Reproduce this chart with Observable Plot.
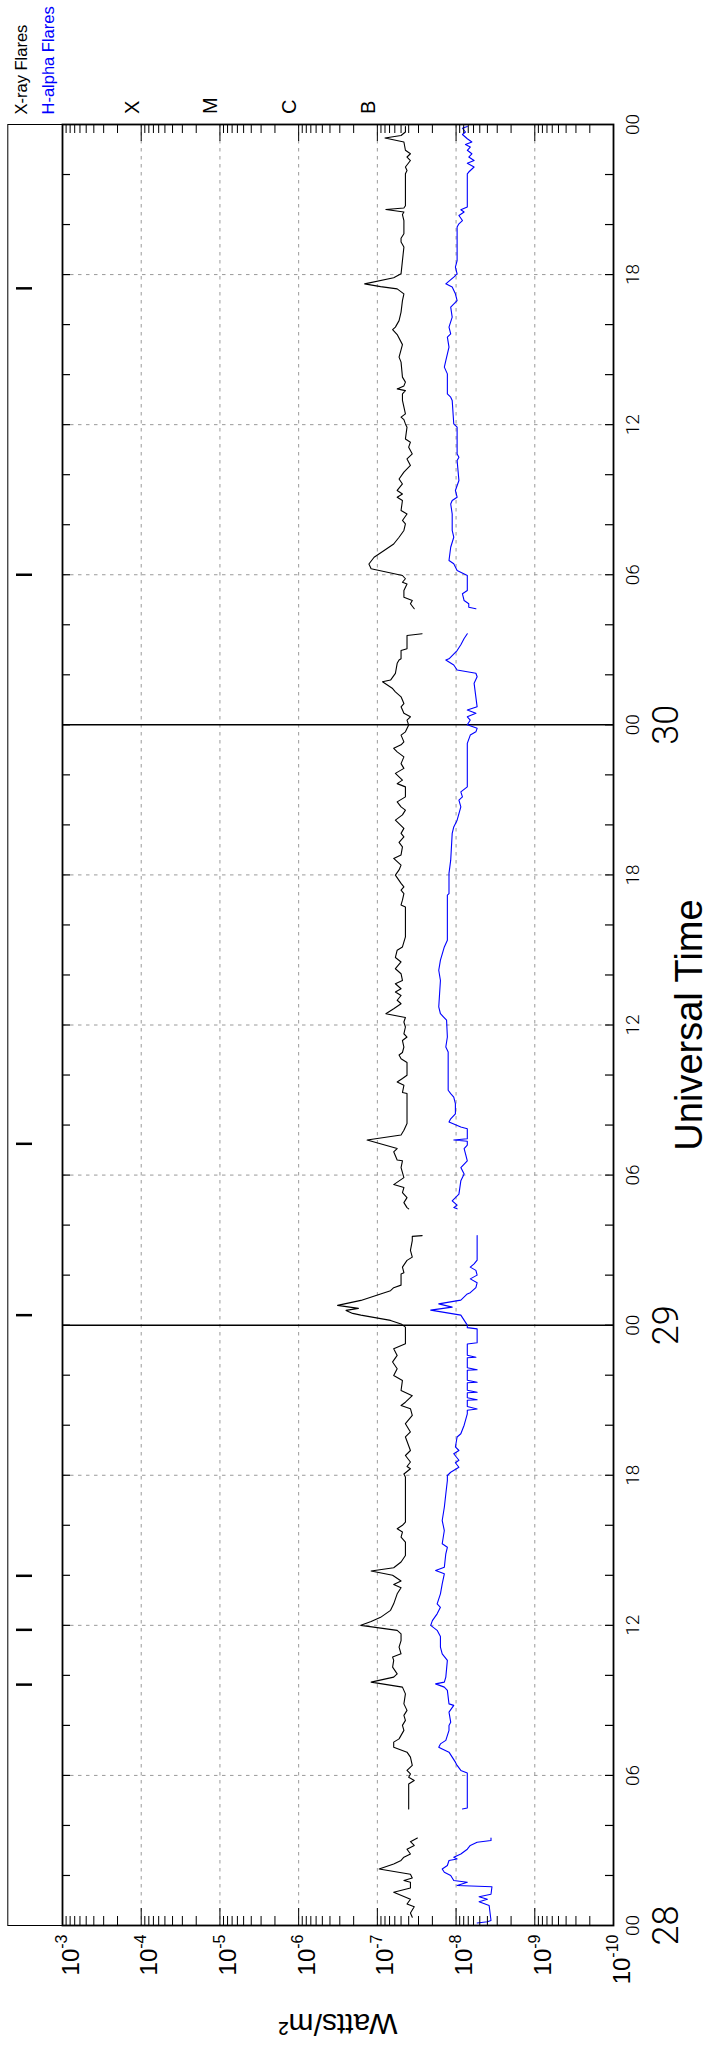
<!DOCTYPE html>
<html>
<head>
<meta charset="utf-8">
<script src="https://cdn.jsdelivr.net/npm/d3@7"></script>
<script src="https://cdn.jsdelivr.net/npm/@observablehq/plot@0.6"></script>
<style>
  html, body { margin: 0; padding: 0; background: #fff; }
  #chart svg { display: block; }
</style>
</head>
<body>
<div id="chart"></div>
<script>
// ---------- data (hours since day 28 00:00 UT, flux in W/m^2) ----------
const xray = [
[0.33,3.6e-8],[0.5,3.8e-8],[0.75,3.4e-8],[0.86,4.2e-8],[1.05,3.8e-8],[1.33,6.2e-8],[1.5,3.8e-8],[1.73,3.8e-8],[1.8,4.6e-8],[1.9,3.6e-8],[2.05,3.8e-8],[2.26,9.5e-8],[2.46,6.2e-8],[2.6,5.0e-8],[2.73,4.6e-8],[2.86,3.8e-8],[3.05,4.2e-8],[3.2,3.4e-8],[3.35,3.8e-8],[3.5,3.1e-8],
[4.0,NaN],
[4.66,4.0e-8],[5.66,4.0e-8],[5.8,3.4e-8],[5.93,4.0e-8],[6.06,3.8e-8],[6.2,4.2e-8],[6.4,3.6e-8],[6.73,3.8e-8],[6.93,4.2e-8],[7.13,6.2e-8],[7.33,6.2e-8],[7.46,5.3e-8],[7.6,5.0e-8],[7.8,4.6e-8],[8.0,4.8e-8],[8.2,4.4e-8],[8.4,4.6e-8],[8.6,4.2e-8],[8.86,4.6e-8],[9.26,4.4e-8],[9.53,4.8e-8],[9.73,1.2e-7],[9.93,6.2e-8],[10.06,5.6e-8],[10.33,6.4e-8],[10.6,6.2e-8],[10.73,6.4e-8],[10.86,5.0e-8],[11.13,5.3e-8],[11.39,5.0e-8],[11.66,5.0e-8],[11.8,5.6e-8],[12.0,1.62e-7],[12.15,1.2e-7],[12.32,9.1e-8],[12.6,6.8e-8],[12.86,6.2e-8],[13.26,5.6e-8],[13.5,5.0e-8],[13.63,6.2e-8],[13.77,5.0e-8],[14.0,6.4e-8],[14.17,1.2e-7],[14.3,6.2e-8],[14.53,5.0e-8],[14.79,4.4e-8],[15.33,4.4e-8],[15.53,5.0e-8],[15.73,4.8e-8],[15.86,5.6e-8],[16.0,4.8e-8],[16.13,4.4e-8],[17.93,4.4e-8],[18.05,4.6e-8],[18.26,3.8e-8],[18.35,4.2e-8],[18.53,3.8e-8],[18.79,4.4e-8],[18.99,3.8e-8],[19.53,4.4e-8],[19.73,3.8e-8],[20.06,4.4e-8],[20.39,3.6e-8],[20.66,3.8e-8],[20.79,5.0e-8],[20.92,4.4e-8],[21.18,3.6e-8],[21.39,5.0e-8],[21.79,4.8e-8],[21.99,6.2e-8],[22.26,5.6e-8],[22.53,6.4e-8],[22.79,5.6e-8],[23.06,6.2e-8],[23.26,4.4e-8],[23.92,4.4e-8],[24.05,5.0e-8],[24.19,6.8e-8],[24.4,1.62e-7],[24.47,2.06e-7],[24.59,2.5e-7],[24.67,1.74e-7],[24.79,3.2e-7],[24.9,2.2e-7],[24.99,1.62e-7],[25.25,9.1e-8],[25.38,6.8e-8],[25.5,6.2e-8],[25.6,5.0e-8],[26.05,5.0e-8],[26.1,4.6e-8],[26.32,4.8e-8],[26.59,4.2e-8],[26.72,3.6e-8],[26.99,3.8e-8],[27.38,3.6e-8],[27.55,3.6e-8],[27.58,2.7e-8],
[28.1,NaN],
[28.65,4.0e-8],[28.7,4.2e-8],[28.9,4.6e-8],[29.1,4.2e-8],[29.3,4.8e-8],[29.5,4.6e-8],[29.62,6.2e-8],[29.9,4.6e-8],[30.3,5.0e-8],[30.57,4.8e-8],[30.6,5.6e-8],[30.93,6.2e-8],[31.06,5.6e-8],[31.4,1.35e-7],[31.6,5.0e-8],[31.79,4.6e-8],[32.06,4.2e-8],[33.26,4.2e-8],[33.3,4.8e-8],[33.59,4.6e-8],[33.72,5.6e-8],[33.86,4.8e-8],[33.99,4.2e-8],[34.5,4.2e-8],[34.65,5.0e-8],[34.8,5.3e-8],[34.9,4.8e-8],[35.12,4.6e-8],[35.38,4.8e-8],[35.52,4.2e-8],[35.65,4.6e-8],[35.92,4.4e-8],[36.12,4.6e-8],[36.3,4.4e-8],[36.45,7.8e-8],[36.65,6.2e-8],[36.85,5.0e-8],[36.99,5.6e-8],[37.18,5.0e-8],[37.32,5.9e-8],[37.45,5.0e-8],[37.65,5.9e-8],[37.78,4.8e-8],[38.05,5.0e-8],[38.25,5.9e-8],[38.52,5.0e-8],[38.7,5.9e-8],[38.99,5.6e-8],[39.12,4.8e-8],[39.52,4.4e-8],[40.72,4.4e-8],[40.8,5.0e-8],[40.99,4.8e-8],[41.25,4.6e-8],[41.39,5.0e-8],[41.52,4.6e-8],[41.66,5.0e-8],[41.99,5.9e-8],[42.2,5.3e-8],[42.39,5.0e-8],[42.66,6.2e-8],[42.8,5.0e-8],[43.12,4.8e-8],[43.3,5.3e-8],[43.52,4.6e-8],[43.66,5.0e-8],[43.86,4.6e-8],[44.19,5.9e-8],[44.4,4.8e-8],[44.59,4.4e-8],[44.72,5.0e-8],[44.92,5.6e-8],[45.12,4.4e-8],[45.52,4.4e-8],[45.65,5.6e-8],[45.79,4.8e-8],[46.06,5.9e-8],[46.26,4.6e-8],[46.45,5.0e-8],[46.72,4.6e-8],[46.92,5.6e-8],[47.06,6.2e-8],[47.2,5.0e-8],[47.32,4.6e-8],[47.59,5.0e-8],[47.72,4.4e-8],[47.99,4.0e-8],[48.19,4.2e-8],[48.32,3.8e-8],[48.46,4.6e-8],[48.72,5.0e-8],[48.85,4.6e-8],[49.12,5.0e-8],[49.32,5.9e-8],[49.45,6.4e-8],[49.72,8.6e-8],[49.79,6.8e-8],[50.06,5.9e-8],[50.46,5.6e-8],[50.59,5.3e-8],[50.64,5.0e-8],[50.97,5.0e-8],[51.04,4.2e-8],[51.57,4.2e-8],[51.64,2.7e-8],
[52.1,NaN],
[52.64,3.4e-8],[52.84,3.8e-8],[52.97,3.6e-8],[53.1,4.6e-8],[53.37,4.6e-8],[53.63,4.2e-8],[53.7,4.8e-8],[53.84,4.4e-8],[53.97,4.8e-8],[54.24,1.2e-7],[54.43,1.28e-7],[54.7,1.1e-7],[54.97,8.2e-8],[55.23,6.2e-8],[55.5,5.3e-8],[55.77,4.6e-8],[56.03,4.4e-8],[56.17,4.8e-8],[56.43,4.2e-8],[56.57,5.0e-8],[56.97,4.8e-8],[57.1,5.6e-8],[57.23,4.8e-8],[57.37,5.6e-8],[57.63,4.8e-8],[57.83,5.3e-8],[58.1,4.6e-8],[58.37,3.8e-8],[58.63,4.2e-8],[58.83,3.6e-8],[59.1,4.0e-8],[59.3,3.8e-8],[59.43,4.4e-8],[59.9,4.2e-8],[60.03,4.4e-8],[60.2,4.6e-8],[60.3,5.0e-8],[60.43,4.4e-8],[60.97,4.8e-8],[61.23,4.8e-8],[61.36,4.4e-8],[61.43,5.6e-8],[61.55,4.6e-8],[61.7,4.4e-8],[61.9,4.8e-8],[62.5,5.0e-8],[62.7,5.3e-8],[63.2,4.8e-8],[63.6,5.6e-8],[63.8,6.4e-8],[63.9,5.9e-8],[64.16,5.3e-8],[64.5,5.0e-8],[64.96,4.8e-8],[65.23,4.6e-8],[65.43,5.6e-8],[65.52,9.1e-8],[65.63,1.45e-7],[65.87,6.2e-8],[66.03,5.0e-8],[66.56,4.8e-8],[67.1,4.6e-8],[67.3,5.0e-8],[67.45,5.0e-8],[67.63,4.6e-8],[68.16,4.6e-8],[68.4,4.8e-8],[68.5,4.6e-8],[68.6,7.8e-8],[68.66,4.6e-8],[68.75,4.4e-8],[69.23,4.4e-8],[70.03,4.4e-8],[70.16,4.2e-8],[70.3,4.4e-8],[70.56,3.8e-8],[70.7,4.2e-8],[70.83,3.8e-8],[70.97,4.4e-8],[71.3,4.6e-8],[71.46,8.0e-8],[71.56,5.0e-8],[71.7,4.4e-8],[71.92,4.4e-8]
];

const lowChannel = [
[0.1,5.4e-9],[0.15,4.0e-9],[0.2,3.6e-9],[0.8,3.8e-9],[0.95,5.1e-9],[1.05,4.0e-9],[1.15,5.1e-9],[1.25,3.6e-9],[1.55,3.5e-9],[1.6,9.7e-9],[1.73,7.2e-9],[1.8,1.07e-8],[2.0,1.17e-8],[2.13,1.41e-8],[2.26,1.5e-8],[2.4,1.29e-8],[2.6,1.23e-8],[2.66,9.7e-9],[2.73,1.07e-8],[2.86,8.7e-9],[3.05,7.2e-9],[3.2,6.6e-9],[3.33,5.4e-9],[3.4,3.6e-9],[3.5,3.6e-9],
[4.0,NaN],
[4.66,8.3e-9],[4.7,7.2e-9],[6.1,7.2e-9],[6.2,8.7e-9],[6.4,9.7e-9],[6.53,1.02e-8],[6.73,1.12e-8],[6.93,1.23e-8],[7.06,1.5e-8],[7.13,1.66e-8],[7.26,1.58e-8],[7.4,1.35e-8],[7.8,1.23e-8],[8.0,1.23e-8],[8.13,1.17e-8],[8.53,1.23e-8],[8.8,1.07e-8],[8.86,1.23e-8],[9.4,1.29e-8],[9.53,1.41e-8],[9.66,1.82e-8],[9.73,1.41e-8],[9.93,1.35e-8],[10.6,1.29e-8],[10.86,1.5e-8],[11.13,1.58e-8],[11.55,1.58e-8],[11.8,1.74e-8],[12.0,2.1e-8],[12.19,2.0e-8],[12.46,1.74e-8],[12.72,1.58e-8],[12.86,1.74e-8],[13.26,1.58e-8],[13.66,1.5e-8],[14.06,1.41e-8],[14.19,1.82e-8],[14.32,1.41e-8],[14.86,1.35e-8],[15.12,1.29e-8],[15.26,1.5e-8],[15.79,1.41e-8],[16.19,1.5e-8],[16.72,1.41e-8],[17.25,1.35e-8],[17.79,1.29e-8],[17.99,1.29e-8],[18.12,1.17e-8],[18.32,9.2e-9],[18.5,1.02e-8],[18.6,9.2e-9],[18.86,1.07e-8],[18.99,9.2e-9],[19.13,1.02e-8],[19.53,9.7e-9],[19.66,8.7e-9],[20.0,7.9e-9],[20.45,7.2e-9],[20.6,7.2e-9],[20.65,5.4e-9],[20.75,7.2e-9],[21.0,7.2e-9],[21.02,5.4e-9],[21.1,7.2e-9],[21.3,7.2e-9],[21.32,5.4e-9],[21.4,7.2e-9],[21.7,7.2e-9],[21.72,5.4e-9],[21.8,7.2e-9],[22.2,7.2e-9],[22.22,5.4e-9],[22.3,7.2e-9],[22.7,7.2e-9],[22.72,5.6e-9],[22.8,7.2e-9],[23.25,7.2e-9],[23.3,5.4e-9],[23.85,5.4e-9],[23.9,7.2e-9],[24.0,7.2e-9],[24.4,8.7e-9],[24.6,2.1e-8],[24.72,1.12e-8],[24.85,1.66e-8],[25.0,8.7e-9],[25.25,7.2e-9],[25.3,6.6e-9],[25.5,5.6e-9],[25.7,5.4e-9],[25.85,6.6e-9],[26.0,5.4e-9],[26.19,5.6e-9],[26.32,6.6e-9],[26.45,5.9e-9],[26.6,5.4e-9],[27.58,5.4e-9],
[28.1,NaN],
[28.65,9.7e-9],[28.7,1.07e-8],[28.8,9.7e-9],[28.97,1.12e-8],[29.24,9.2e-9],[29.77,8.7e-9],[30.04,7.9e-9],[30.3,8.7e-9],[30.57,7.2e-9],[30.86,7.6e-9],[31.06,7.9e-9],[31.2,7.2e-9],[31.35,7.2e-9],[31.4,1.07e-8],[31.45,7.2e-9],[31.85,7.2e-9],[31.92,8.7e-9],[32.12,1.23e-8],[32.25,1.17e-8],[32.45,1.02e-8],[32.86,1.02e-8],[33.12,1.07e-8],[33.26,1.17e-8],[33.39,1.26e-8],[34.92,1.26e-8],[35.12,1.35e-8],[35.52,1.29e-8],[36.19,1.32e-8],[36.45,1.58e-8],[36.72,1.66e-8],[37.25,1.62e-8],[37.78,1.58e-8],[38.19,1.66e-8],[38.59,1.58e-8],[39.12,1.41e-8],[39.39,1.29e-8],[41.19,1.29e-8],[41.25,1.23e-8],[42.06,1.23e-8],[42.59,1.17e-8],[43.66,1.12e-8],[43.92,1.07e-8],[44.19,9.7e-9],[44.72,8.7e-9],[44.99,9.2e-9],[45.12,8.3e-9],[45.32,8.7e-9],[45.52,7.2e-9],[47.26,7.2e-9],[47.59,6.6e-9],[47.72,5.6e-9],[47.86,5.4e-9],[48.0,7.2e-9],[48.19,6.6e-9],[48.32,7.2e-9],[48.46,5.6e-9],[48.59,7.2e-9],[48.72,5.4e-9],[49.66,5.9e-9],[49.92,5.4e-9],[50.06,5.6e-9],[50.19,9.7e-9],[50.39,1.07e-8],[50.59,1.35e-8],[50.64,1.23e-8],[50.97,9.7e-9],[51.2,8.7e-9],[51.45,7.9e-9],[51.64,7.2e-9],
[52.1,NaN],
[52.64,5.6e-9],[52.7,6.9e-9],[52.84,6.9e-9],[52.97,7.9e-9],[53.24,8.3e-9],[53.37,7.2e-9],[53.97,7.2e-9],[54.17,9.7e-9],[54.44,1.07e-8],[54.57,1.23e-8],[55.1,1.17e-8],[55.5,1.07e-8],[55.77,1.12e-8],[56.43,1.12e-8],[56.83,1.17e-8],[56.97,1.12e-8],[57.1,9.7e-9],[57.37,1.02e-8],[57.77,9.2e-9],[58.57,9.7e-9],[58.7,9.2e-9],[58.83,9.7e-9],[59.9,9.7e-9],[60.03,1.07e-8],[60.97,1.12e-8],[61.1,1.17e-8],[61.23,1.29e-8],[62.03,1.29e-8],[62.3,1.41e-8],[62.56,1.35e-8],[63.1,1.23e-8],[63.5,1.29e-8],[63.63,1.17e-8],[63.9,1.23e-8],[64.3,1.12e-8],[64.7,1.17e-8],[64.96,9.7e-9],[65.23,1.02e-8],[65.5,1.12e-8],[65.63,1.35e-8],[65.9,1.07e-8],[66.03,9.7e-9],[66.3,1.02e-8],[66.56,9.7e-9],[67.9,9.7e-9],[68.03,9.2e-9],[68.16,8.3e-9],[68.36,9.2e-9],[68.5,7.9e-9],[68.59,8.7e-9],[68.7,7.2e-9],[70.03,7.2e-9],[70.1,6.9e-9],[70.3,5.9e-9],[70.45,7.2e-9],[70.56,5.9e-9],[70.7,6.9e-9],[70.83,6.3e-9],[70.97,7.2e-9],[71.1,6.6e-9],[71.2,7.6e-9],[71.3,6.3e-9],[71.43,7.2e-9],[71.6,8.3e-9],[71.7,7.6e-9],[71.85,8.3e-9],[71.92,7.2e-9]
];

// flare event markers (hours since 28 00 UT)
const xrayFlareHours = [9.63, 11.82, 13.98, 24.4, 31.25, 54.0, 65.45];

// axis definitions
const fluxDecades = [1e-3, 1e-4, 1e-5, 1e-6, 1e-7, 1e-8, 1e-9, 1e-10];
const fluxLabels = ["10^-3", "10^-4", "10^-5", "10^-6", "10^-7", "10^-8", "10^-9", "10^-10"];
const gridDecades = [1e-4, 1e-5, 1e-6, 1e-7, 1e-8, 1e-9];
const minorMultipliers = [2, 3, 4, 5, 6, 7, 8, 9];
const classLetters = ["X", "M", "C", "B"];
const classDecades = [1e-4, 1e-5, 1e-6, 1e-7];
const hourTickStep = 2;
const labelHours = [0, 6, 12, 18, 24, 30, 36, 42, 48, 54, 60, 66, 72];
const hourLabels = ["00", "06", "12", "18", "00", "06", "12", "18", "00", "06", "12", "18", "00"];
const dayHours = [0, 24, 48];
const dayLabels = ["28", "29", "30"];
const dayBoundaries = [24, 48];
const gridHours = [6, 12, 18, 30, 36, 42, 54, 60, 66];

// derived tick lists
const minorTicks = [-10, -9, -8, -7, -6, -5, -4].flatMap(k => minorMultipliers.map(m => m * Math.pow(10, k)));
const hourTicks = d3.range(hourTickStep, 72, hourTickStep);

const W = 710, H = 2049;
const mL = 62, mR = 97, mT = 124, mB = 124;
const frameW = W - mL - mR;   // 551
const frameH = H - mT - mB;   // 1801

const sansFont = "'Liberation Sans', Arial, Helvetica, sans-serif";
const thinFont = "Roboto, 'DejaVu Sans', 'Liberation Sans', sans-serif";

const chart = Plot.plot({
  width: W,
  height: H,
  marginLeft: mL, marginRight: mR, marginTop: mT, marginBottom: mB,
  x: {type: "log", domain: [1e-3, 1e-10], axis: null},
  y: {domain: [0, 72], axis: null},
  style: {fontFamily: sansFont, background: "white", overflow: "visible"},
  marks: [
    // grid
    Plot.ruleX(gridDecades, {x: d => d, stroke: "#9a9a9a", strokeWidth: 1, strokeDasharray: "3.5,4.5"}),
    Plot.ruleY(gridHours, {y: d => d, stroke: "#9a9a9a", strokeWidth: 1, strokeDasharray: "3.5,4.5"}),
    Plot.ruleY(dayBoundaries, {y: d => d, stroke: "black", strokeWidth: 1.5}),

    // data
    Plot.line(lowChannel, {x: d => d[1], y: d => d[0], stroke: "#0000ff", strokeWidth: 1.1}),
    Plot.line(xray, {x: d => d[1], y: d => d[0], stroke: "black", strokeWidth: 1.1}),

    // flux ticks (top & bottom, inward)
    Plot.tickX(fluxDecades, {x: d => d, stroke: "black", strokeWidth: 1, insetBottom: frameH - 17}),
    Plot.tickX(fluxDecades, {x: d => d, stroke: "black", strokeWidth: 1, insetTop: frameH - 17}),
    Plot.tickX(minorTicks, {x: d => d, stroke: "black", strokeWidth: 1, insetBottom: frameH - 9}),
    Plot.tickX(minorTicks, {x: d => d, stroke: "black", strokeWidth: 1, insetTop: frameH - 9}),

    // time ticks (left & right, inward)
    Plot.tickY(hourTicks, {y: d => d, stroke: "black", strokeWidth: 1.2, insetRight: frameW - 8}),
    Plot.tickY(hourTicks, {y: d => d, stroke: "black", strokeWidth: 1.2, insetLeft: frameW - 8}),

    // flare markers in the left strip (16 px long, shifted into the strip)
    Plot.tickY(xrayFlareHours, {y: d => d, stroke: "black", strokeWidth: 2.5, insetRight: frameW - 16, dx: -46}),

    // frames
    Plot.frame({stroke: "black", strokeWidth: 1, insetLeft: -54.7}),
    Plot.frame({stroke: "black", strokeWidth: 1.8}),

    // flux axis labels
    Plot.text(fluxDecades, {x: d => d, text: (d, i) => fluxLabels[i], frameAnchor: "bottom", dy: 9, dx: 16,
      rotate: -90, textAnchor: "end", lineAnchor: "bottom", fontSize: 24, fill: "black"}),
    // GOES class letters
    Plot.text(classDecades, {x: d => d, text: (d, i) => classLetters[i], frameAnchor: "top", dy: -10.5, dx: -2.7,
      rotate: -90, textAnchor: "start", lineAnchor: "bottom", fontSize: 20, fill: "black"}),
    // hour labels
    Plot.text(labelHours, {y: d => d, text: (d, i) => hourLabels[i], frameAnchor: "right", dx: 25,
      rotate: -90, textAnchor: "middle", lineAnchor: "bottom", fontSize: 19, fontFamily: thinFont, fontWeight: 300, fill: "black"}),
    // day labels
    Plot.text(dayHours, {y: d => d, text: (d, i) => dayLabels[i], frameAnchor: "right", dx: 64,
      rotate: -90, textAnchor: "middle", lineAnchor: "bottom", fontSize: 36, fontFamily: thinFont, fontWeight: 300, fill: "black"}),
    // axis titles
    Plot.text(["Universal Time"], {text: d => d, frameAnchor: "right", dx: 88,
      rotate: -90, textAnchor: "middle", lineAnchor: "bottom", fontSize: 38, fill: "black"}),
    Plot.text(["Watts/m²"], {text: d => d, frameAnchor: "bottom", dy: 88,
      rotate: 180, textAnchor: "middle", lineAnchor: "bottom", fontSize: 30, fill: "black"}),
    // legend
    Plot.text(["X-ray Flares"], {text: d => d, frameAnchor: "top-left", dx: -35.3, dy: -10,
      rotate: -90, textAnchor: "start", lineAnchor: "bottom", fontSize: 16.5, fill: "black"}),
    Plot.text(["H-alpha Flares"], {text: d => d, frameAnchor: "top-left", dx: -8.7, dy: -10,
      rotate: -90, textAnchor: "start", lineAnchor: "bottom", fontSize: 16.5, fill: "#0000ff"})
  ]
});

// turn "10^-3" into 10 with a superscript exponent
const ns = "http://www.w3.org/2000/svg";
chart.querySelectorAll("text").forEach(t => {
  const m = /^10\^(.+)$/.exec(t.textContent);
  if (!m) return;
  while (t.firstChild) t.removeChild(t.firstChild);
  const base = document.createElementNS(ns, "tspan");
  base.textContent = "10";
  const sup = document.createElementNS(ns, "tspan");
  sup.setAttribute("font-size", "16");
  sup.setAttribute("dy", "-0.7em");
  sup.textContent = m[1];
  t.append(base, sup);
});

document.getElementById("chart").append(chart);
</script>
</body>
</html>
